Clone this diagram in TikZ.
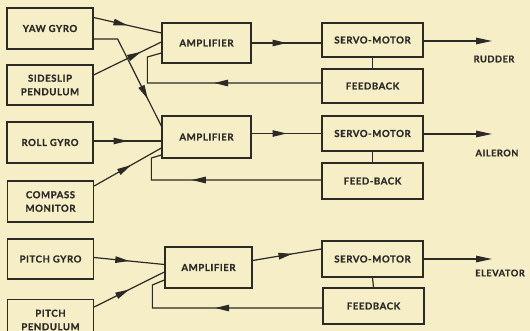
\documentclass[tikz,border=0pt]{standalone}
\usepackage{fontspec}
\setmainfont{Lato}[LetterSpace=6,BoldFeatures={FakeBold=0.9}]
\usepackage{tikz}
\usetikzlibrary{arrows.meta,decorations.markings}
\definecolor{paper}{HTML}{F6EEC6}
\definecolor{ink}{HTML}{2B2A26}

\begin{document}
\begin{tikzpicture}[x=1pt, y=-1pt,
		block_style/.style={rectangle,draw=ink,line width=1.3pt,inner sep=0pt,align=center,
			font=\fontsize{9.6}{13.5}\selectfont\bfseries,text=ink},
		label_style/.style={font=\fontsize{9.2}{13.5}\selectfont\bfseries,text=ink,inner sep=0pt},
		edge_style/.style={draw=ink,line width=1.2pt},
		flow_style/.style={edge_style,postaction={decorate},
			decoration={markings,mark=at position #1 with {\arrow{Triangle[length=14pt,width=6.5pt]}}}},
		flow_style/.default=0.5]

		\clip (0,0) rectangle (530,331);
		\fill[paper] (0,0) rectangle (530,331);

		% sensors
		\node[block_style,minimum width=86,minimum height=41] (yaw) at (50,28.5) {YAW GYRO};
		\node[block_style,minimum width=86,minimum height=40] (sideslip) at (50,85) {SIDESLIP\\PENDULUM};
		\node[block_style,minimum width=86,minimum height=41] (roll) at (50,142.5) {ROLL GYRO};
		\node[block_style,minimum width=86,minimum height=41] (compass) at (50.5,201.5) {COMPASS\\MONITOR};
		\node[block_style,minimum width=86,minimum height=40] (pgyro) at (50.5,259) {PITCH GYRO};
		\node[block_style,minimum width=86,minimum height=41] (ppend) at (50.5,320) {PITCH\\PENDULUM};

		% amplifiers
		\node[block_style,minimum width=89,minimum height=40] (amp1) at (206.5,43) {AMPLIFIER};
		\node[block_style,minimum width=89,minimum height=42] (amp2) at (206.5,137) {AMPLIFIER};
		\node[block_style,minimum width=87,minimum height=41] (amp3) at (208.5,267.5) {AMPLIFIER};

		% servo-motors and feedback
		\node[block_style,minimum width=101,minimum height=34] (servo1) at (372.5,40) {SERVO-MOTOR};
		\node[block_style,minimum width=101,minimum height=34] (fb1) at (372.5,86) {FEEDBACK};
		\node[block_style,minimum width=101,minimum height=35] (servo2) at (372.5,133.5) {SERVO-MOTOR};
		\node[block_style,minimum width=101,minimum height=36] (fb2) at (372.5,181) {FEED-BACK};
		\node[block_style,minimum width=101,minimum height=36] (servo3) at (372.5,259) {SERVO-MOTOR};
		\node[block_style,minimum width=101,minimum height=36] (fb3) at (373.5,306) {FEEDBACK};

		% outputs
		\coordinate (out1) at (492,41);
		\coordinate (out2) at (492,134);
		\coordinate (out3) at (492,259);
		\node[label_style] (rudder) at (494,59) {RUDDER};
		\node[label_style] (aileron) at (497,153) {AILERON};
		\node[label_style] (elevator) at (500,273) {ELEVATOR};

		% yaw channel
		\draw[flow_style]  ([yshift=11]yaw.east) -- ([yshift=10]amp1.west);
		\draw[flow_style=0.75]  ([yshift=-10.5]yaw.east) -- ++(24,0) -- ([yshift=11]amp2.west);
		\draw[flow_style=0.7]  ([yshift=10]sideslip.east) -- ([yshift=1]amp1.west);
		\draw[flow_style]  (amp1.east) -- (amp1.east -| servo1.west);
		\draw[edge_style,-{Triangle[length=16pt,width=6.5pt]}]  (servo1.east |- out1) -- (out1);
		\draw[edge_style]  (servo1.south) -- (fb1.north);
		\draw[flow_style]  ([yshift=3]fb1.west) -- ++(-174,0) -- ++(0,-26) -- ([yshift=-10]amp1.west);

		% roll channel
		\draw[flow_style]  ([yshift=1.5]roll.east) -- ([yshift=1.5]roll.east -| amp2.west);
		\draw[flow_style=0.55]  ([yshift=15.5]compass.east) -- ([yshift=-11]amp2.west);
		\draw[flow_style]  (amp2.east |- servo2.west) -- (servo2.west);
		\draw[edge_style,-{Triangle[length=16pt,width=6.5pt]}]  (servo2.east |- out2) -- (out2);
		\draw[edge_style]  (servo2.south) -- (fb2.north);
		\draw[flow_style=0.64]  ([yshift=1]fb2.west) -- ++(-170,0) -- ++(0,-22) -- ([yshift=-18]amp2.west);

		% pitch channel
		\draw[flow_style]  ([yshift=1.5]pgyro.east) -- ([yshift=3]amp3.west);
		\draw[flow_style]  ([yshift=13]ppend.east) -- ([yshift=-4.5]amp3.west);
		\draw[flow_style=0.58]  ([yshift=7]amp3.east) -- ([yshift=10]servo3.west);
		\draw[edge_style,-{Triangle[length=16pt,width=6.5pt]}]  (servo3.east |- out3) -- (out3);
		\draw[edge_style]  (servo3.south) -- (fb3.north);
		\draw[flow_style=0.52]  ([yshift=-2]fb3.west) -- ++(-170,0) -- ++(0,-23) -- ([yshift=-12.5]amp3.west);

\end{tikzpicture}
\end{document}
